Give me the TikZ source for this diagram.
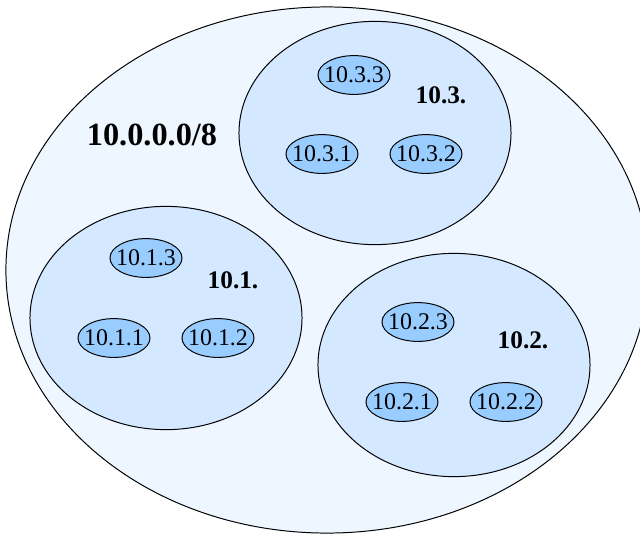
\documentclass[tikz,border=0pt]{standalone}
\usepackage{fontspec}
\setmainfont{Liberation Serif}
\usetikzlibrary{shapes.geometric, positioning}
\definecolor{NetFill}{RGB}{238,246,255}
\definecolor{SubFill}{RGB}{212,233,255}
\definecolor{HostFill}{RGB}{153,204,255}

\begin{document}
\begin{tikzpicture}[x=0.025cm, y=-0.025cm,
    network/.style={draw, ellipse, fill=NetFill, line width=0.7pt,
                    minimum width=16.05cm, minimum height=13.15cm},
    subnet/.style={draw, ellipse, fill=SubFill, line width=0.7pt,
                   minimum width=6.8cm, minimum height=5.58cm},
    host/.style={draw, ellipse, fill=HostFill, line width=0.7pt, inner xsep=-3.2pt, inner ysep=0pt,
                 minimum width=1.8cm, minimum height=0.97cm, font=\fontsize{17}{17}\selectfont},
    sublabel/.style={font=\fontsize{18}{18}\selectfont\bfseries},
]
\useasboundingbox (0,0) rectangle (640,534);

\node[network] (net) at (327,270) {};
\node[font=\fontsize{23}{23}\selectfont\bfseries] (netlbl) at (152,135) {10.0.0.0/8};

% subnet 10.3.
\node[subnet] (sub3) at (375,133) {};
\node[sublabel] (lbl3) at (441,95) {10.3.};
\node[host] (h33) at (354,75) {10.3.3};
\node[host] (h31) at (322,154) {10.3.1};
\node[host] (h32) at (426,154) {10.3.2};

% subnet 10.1.
\node[subnet] (sub1) at (166,318) {};
\node[sublabel] (lbl1) at (233,280) {10.1.};
\node[host] (h13) at (146,258) {10.1.3};
\node[host] (h11) at (114,338) {10.1.1};
\node[host] (h12) at (218,338) {10.1.2};

% subnet 10.2.
\node[subnet] (sub2) at (454,365) {};
\node[sublabel] (lbl2) at (523,340) {10.2.};
\node[host] (h23) at (418,322) {10.2.3};
\node[host] (h21) at (402,402) {10.2.1};
\node[host] (h22) at (506,402) {10.2.2};
\end{tikzpicture}
\end{document}
